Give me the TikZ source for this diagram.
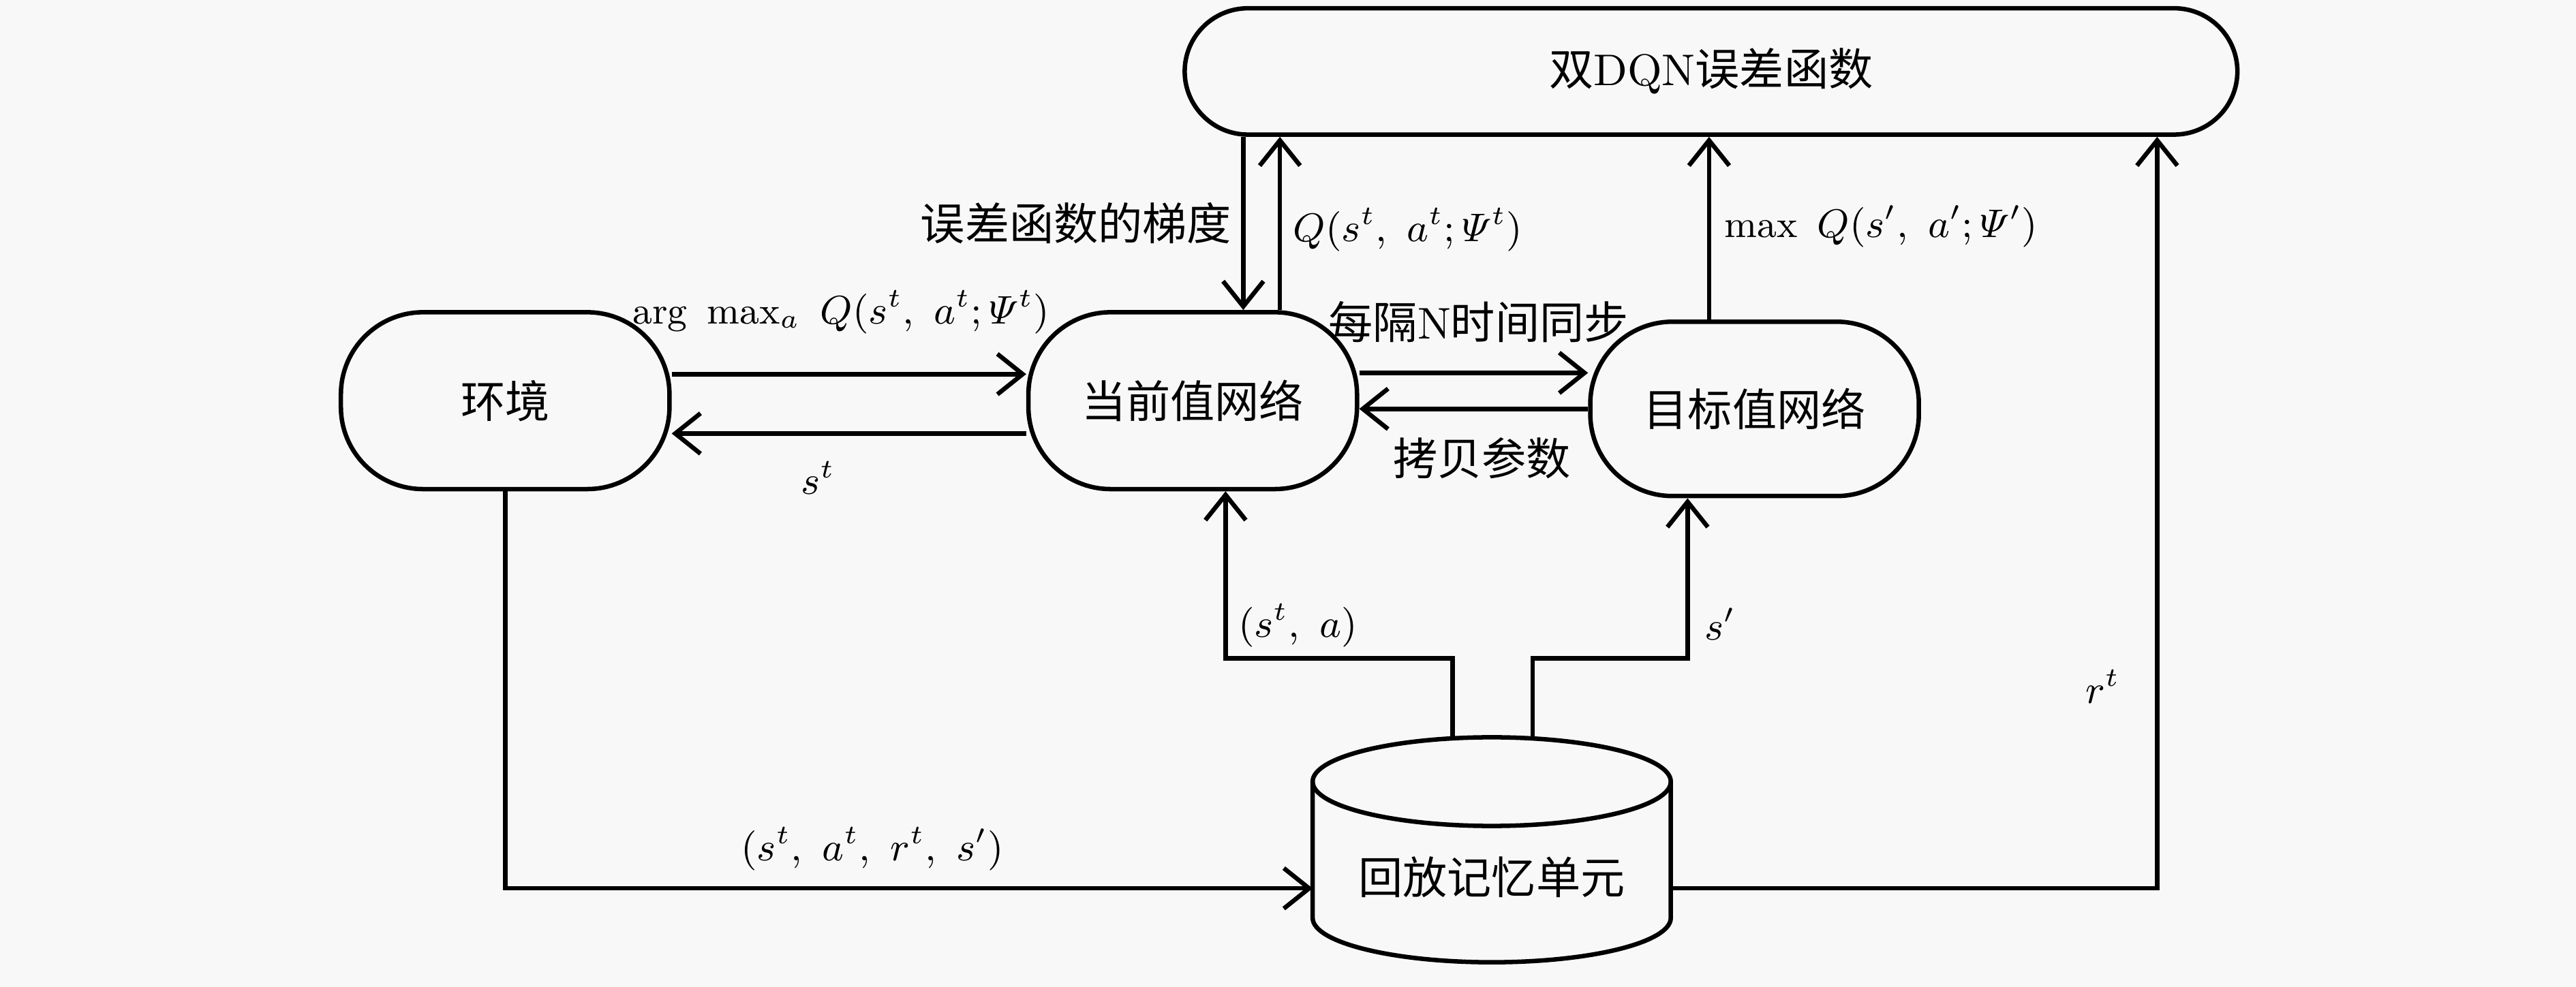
\documentclass[tikz,border=0pt]{standalone}
\usepackage{fontspec}
\usepackage{amsmath}
\newfontfamily\cjk{Noto Sans CJK SC}
\usetikzlibrary{arrows.meta,positioning,calc}
\definecolor{bgcol}{RGB}{248,248,248}

\tikzset{
  netbox/.style={draw, line width=1pt, rounded corners=0.65cm, minimum width=2.6cm, minimum height=1.4cm, font=\cjk},
  flow/.style={line width=1pt, -{Straight Barb[length=2mm,width=3.2mm]}},
  mlbl/.style={font=\fontsize{8.6}{10}\selectfont},
}

\begin{document}
\begin{tikzpicture}[x=0.013cm, y=-0.013cm]
% background and margins
\fill[bgcol] (0,0) rectangle (1568,601);
\useasboundingbox (0,0) rectangle (1568,601);

% networks
\node[netbox, rounded corners=0.5cm, minimum width=8.33cm, minimum height=1cm] (err) at (1041.5,43.5) {双{\normalfont DQN}误差函数};
\node[netbox] (env) at (307.5,244) {环境};
\node[netbox] (cur) at (726,244) {当前值网络};
\node[netbox, minimum height=1.38cm] (tgt) at (1068,249) {目标值网络};

% replay memory (cylinder)
\node[minimum width=2.83cm, minimum height=1.43cm, font=\cjk] (mem) at (908,534) {回放记忆单元};
\draw[line width=1pt] (799,476) -- (799,559) arc[start angle=180, end angle=360, x radius=1.417cm, y radius=0.351cm] -- (1017,476);
\draw[line width=1pt] (908,476) ellipse[x radius=1.417cm, y radius=0.351cm];
\coordinate (memtop) at (908,449);

% env <-> current net
\draw[flow] ([yshift=2.1mm]env.east) -- ([yshift=2.1mm]cur.west);
\draw[flow] ([yshift=-2.6mm]cur.west) -- ([yshift=-2.6mm]env.east);
\node[mlbl] (lact) at (512,190) {$\arg\ \max_a\ Q(s^t,\ a^t;\varPsi^t)$};
\node[mlbl] (lst) at (498,291) {$s^t$};

% current <-> target
\coordinate (syncin) at ([yshift=2.85mm]tgt.west);
\draw[flow] (syncin -| cur.east) -- (syncin);
\draw[flow] (tgt.west) -- (tgt.west -| cur.east);
\node (lsync) at (900,196) {{\cjk 每隔}N{\cjk 时间同步}};
\node[font=\cjk] (lcopy) at (902,279) {拷贝参数};

% to/from error function
\coordinate (gradin) at ([xshift=4mm]cur.north);
\coordinate (qout) at ([xshift=6.9mm]cur.north);
\coordinate (maxout) at ([xshift=-3.6mm]tgt.north);
\draw[flow] (gradin |- err.south) -- (gradin);
\draw[flow] (qout) -- (qout |- err.south);
\draw[flow] (maxout) -- (maxout |- err.south);
\node[font=\cjk] (lgrad) at (655,136) {误差函数的梯度};
\node[mlbl] (lq) at (857,140) {$Q(s^t,\ a^t;\varPsi^t)$};
\node[mlbl] (lmax) at (1145,138) {$\max\ Q(s',\ a';\varPsi')$};

% replay memory samples
\coordinate (sain) at ([xshift=2.6mm]cur.south);
\coordinate (spin) at ([xshift=-5.3mm]tgt.south);
\draw[flow] ([xshift=-3.1mm]memtop) -- ++(0,-48) -| (sain);
\draw[flow] ([xshift=3.25mm]memtop) -- ++(0,-48) -| (spin);
\node[mlbl] (lsa) at (790,381) {$(s^t,\ a)$};
\node[mlbl] (lsp) at (1047,380) {$s'$};

% transitions and reward
\coordinate (memin) at (799,541);
\coordinate (memout) at (1017,541);
\coordinate (rin) at ([xshift=35.3mm]err.south);
\draw[flow] (env.south) |- (memin);
\draw[flow] (memout) -| (rin);
\node[mlbl] (ltuple) at (531,517) {$(s^t,\ a^t,\ r^t,\ s')$};
\node[mlbl] (lr) at (1280,418) {$r^t$};
\end{tikzpicture}
\end{document}
